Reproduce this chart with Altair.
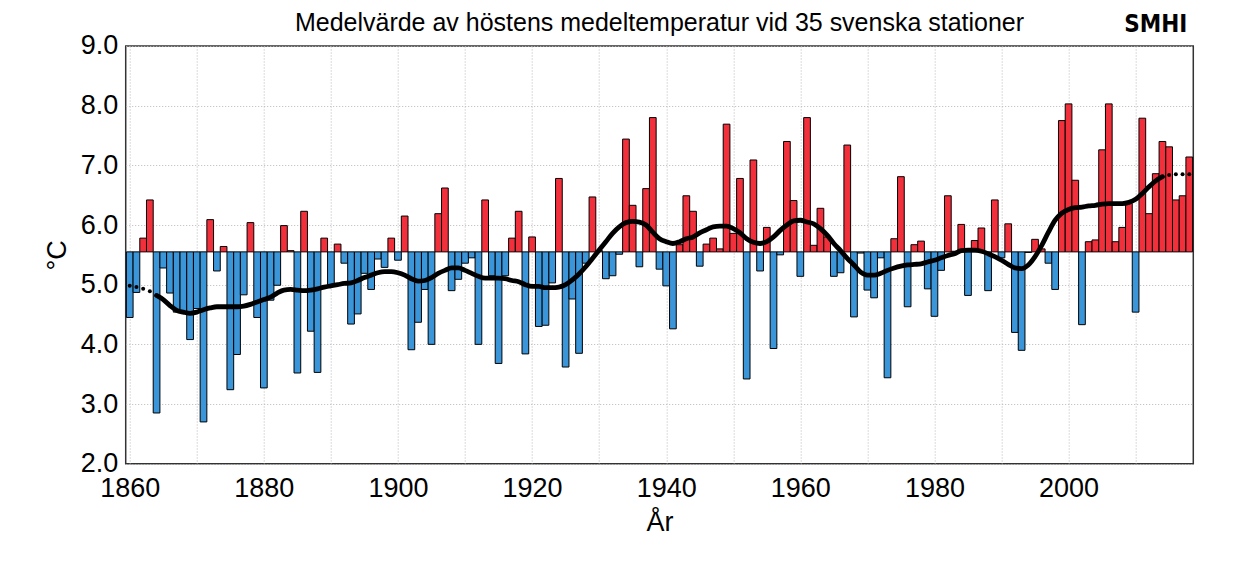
import altair as alt
import pandas as pd

# ---- data -------------------------------------------------------------
years = list(range(1860, 2019))

autumn_temp = [
    4.45, 4.87, 5.78, 6.42, 2.85, 5.28, 4.86, 4.54, 4.54, 4.08,   # 1860-1869
    4.60, 2.70, 6.09, 5.23, 5.64, 3.24, 3.83, 4.83, 6.04, 4.45,   # 1870-1879
    3.27, 4.74, 4.99, 5.99, 5.57, 3.52, 6.23, 4.22, 3.53, 5.78,   # 1880-1889
    5.00, 5.68, 5.36, 4.34, 4.51, 5.19, 4.92, 5.43, 5.29, 5.78,   # 1890-1899
    5.41, 6.15, 3.91, 4.37, 4.92, 4.00, 6.19, 6.62, 4.90, 5.09,   # 1900-1909
    5.36, 5.45, 4.00, 6.42, 5.15, 3.68, 5.15, 5.78, 6.23, 3.84,   # 1910-1919
    5.80, 4.30, 4.32, 5.03, 6.78, 3.62, 4.76, 3.85, 5.36, 6.47,   # 1920-1929
    5.57, 5.10, 5.15, 5.51, 7.44, 6.33, 5.30, 6.61, 7.80, 5.26,   # 1930-1939
    4.98, 4.26, 5.67, 6.49, 6.23, 5.31, 5.68, 5.78, 5.60, 7.69,   # 1940-1949
    5.86, 6.78, 3.42, 7.09, 5.23, 5.96, 3.93, 5.50, 7.40, 6.41,   # 1950-1959
    5.14, 7.80, 5.66, 6.28, 5.80, 5.14, 5.20, 7.34, 4.46, 5.53,   # 1960-1969
    4.91, 4.78, 5.45, 3.44, 5.77, 6.81, 4.63, 5.67, 5.73, 4.93,   # 1970-1979
    4.47, 5.24, 6.49, 5.56, 6.01, 4.82, 5.74, 5.95, 4.90, 6.42,   # 1980-1989
    5.45, 6.02, 4.20, 3.90, 5.54, 5.76, 5.60, 5.36, 4.92, 7.75,   # 1990-1999
    8.03, 6.75, 4.33, 5.72, 5.75, 7.26, 8.03, 5.72, 5.96, 6.36,   # 2000-2009
    4.54, 7.79, 6.19, 6.86, 7.40, 7.31, 6.42, 6.49, 7.14,         # 2010-2018
]

smoothed = [
    4.98, 4.96, 4.93, 4.89, 4.82, 4.75, 4.65, 4.57, 4.54, 4.52,   # 1860-1869
    4.54, 4.58, 4.61, 4.63, 4.63, 4.63, 4.63, 4.64, 4.67, 4.71,   # 1870-1879
    4.75, 4.79, 4.86, 4.91, 4.92, 4.91, 4.90, 4.91, 4.93, 4.96,   # 1880-1889
    4.98, 5.00, 5.02, 5.03, 5.07, 5.12, 5.16, 5.20, 5.22, 5.22,   # 1890-1899
    5.20, 5.16, 5.10, 5.06, 5.07, 5.12, 5.19, 5.24, 5.28, 5.28,   # 1900-1909
    5.24, 5.19, 5.14, 5.11, 5.11, 5.11, 5.10, 5.07, 5.05, 5.00,   # 1910-1919
    4.97, 4.97, 4.95, 4.95, 4.96, 5.00, 5.08, 5.18, 5.30, 5.44,   # 1920-1929
    5.58, 5.72, 5.86, 5.97, 6.04, 6.06, 6.05, 6.00, 5.88, 5.77,   # 1930-1939
    5.72, 5.69, 5.72, 5.77, 5.80, 5.87, 5.92, 5.97, 5.98, 5.98,   # 1940-1949
    5.94, 5.87, 5.77, 5.71, 5.69, 5.72, 5.80, 5.91, 6.00, 6.07,   # 1950-1959
    6.08, 6.05, 6.02, 5.94, 5.83, 5.69, 5.57, 5.44, 5.33, 5.21,   # 1960-1969
    5.16, 5.16, 5.19, 5.24, 5.28, 5.31, 5.33, 5.34, 5.35, 5.38,   # 1970-1979
    5.41, 5.45, 5.49, 5.52, 5.57, 5.58, 5.58, 5.56, 5.52, 5.47,   # 1980-1989
    5.41, 5.34, 5.28, 5.27, 5.33, 5.47, 5.66, 5.88, 6.08, 6.20,   # 1990-1999
    6.26, 6.29, 6.30, 6.32, 6.33, 6.35, 6.36, 6.36, 6.36, 6.38,   # 2000-2009
    6.43, 6.53, 6.64, 6.74, 6.81, 6.84, 6.85, 6.85, 6.85,         # 2010-2018
]

BASELINE = 5.55
SOLID_START, SOLID_END = 1864, 2014

x_ticks = list(range(1860, 2011, 10))
y_ticks = [2, 3, 4, 5, 6, 7, 8, 9]

TITLE = "Medelvärde av höstens medeltemperatur vid 35 svenska stationer"
LOGO = "SMHI"
RED = "#f2303c"
BLUE = "#3b95d9"
FONT = "Liberation Sans"

W, H = 1067.6, 417.7

# ---- tables -----------------------------------------------------------
bars_df = pd.DataFrame({"year": years, "temp": autumn_temp})
smooth_df = pd.DataFrame({"year": years, "smooth": smoothed})
title_df = pd.DataFrame({"t": [TITLE]})
logo_df = pd.DataFrame({"t": [LOGO]})

x_scale = alt.Scale(domain=[1859.4, 2018.6], nice=False, zero=False)
y_scale = alt.Scale(domain=[2, 9], nice=False, zero=False)

x_axis = alt.Axis(
    values=x_ticks,
    format="d",
    labelExpr="datum.value % 20 == 0 ? datum.label : ''",
    title="År",
    titleY=67,
    titleBaseline="alphabetic",
    labelPadding=33,
    labelBaseline="alphabetic",
)
y_axis = alt.Axis(
    values=y_ticks,
    format=".1f",
    title="°C",
    titleX=-60,
    titleY=H / 2,
    titleAngle=-90,
    titleBaseline="alphabetic",
    labelPadding=8,
)

bars = (
    alt.Chart(bars_df)
    .transform_calculate(
        x0="datum.year - 0.5",
        x1="datum.year + 0.5",
        base=str(BASELINE),
        kind=f"datum.temp >= {BASELINE} ? 'warm' : 'cold'",
    )
    .mark_rect(stroke="black", strokeWidth=1)
    .encode(
        x=alt.X("x0:Q", scale=x_scale, axis=x_axis),
        x2="x1:Q",
        y=alt.Y("temp:Q", scale=y_scale, axis=y_axis),
        y2="base:Q",
        color=alt.Color(
            "kind:N",
            scale=alt.Scale(domain=["warm", "cold"], range=[RED, BLUE]),
            legend=None,
        ),
    )
)

line = (
    alt.Chart(smooth_df)
    .transform_filter(
        f"datum.year >= {SOLID_START} && datum.year <= {SOLID_END}"
    )
    .mark_line(color="black", strokeWidth=4.8, strokeCap="round", interpolate="monotone")
    .encode(
        x=alt.X("year:Q", scale=x_scale),
        y=alt.Y("smooth:Q", scale=y_scale),
    )
)

dots = (
    alt.Chart(smooth_df)
    .transform_filter(
        f"datum.year < {SOLID_START} || datum.year > {SOLID_END}"
    )
    .mark_circle(color="black", size=16, opacity=1)
    .encode(
        x=alt.X("year:Q", scale=x_scale),
        y=alt.Y("smooth:Q", scale=y_scale),
    )
)

title = (
    alt.Chart(title_df)
    .mark_text(
        font=FONT,
        fontSize=25,
        align="center",
        baseline="alphabetic",
        color="black",
    )
    .encode(text="t:N", x=alt.value(W / 2), y=alt.value(-15))
)

logo = (
    alt.Chart(logo_df)
    .mark_text(
        font="DejaVu Sans Condensed, Liberation Sans Narrow, sans-serif",
        fontWeight="bold",
        fontSize=24,
        align="center",
        baseline="alphabetic",
        color="black",
    )
    .encode(text="t:N", x=alt.value(1030), y=alt.value(-14))
)

chart = (
    alt.layer(bars, line, dots, title, logo)
    .properties(
        width=W,
        height=H,
        autosize=alt.AutoSizeParams(type="none"),
        padding={"left": 117.7, "top": 38, "right": 50, "bottom": 100},
    )
    .configure_view(stroke="#333333", strokeWidth=1.5)
    .configure_axis(
        labelFont=FONT,
        labelFontSize=27,
        labelColor="black",
        labelOverlap=False,
        titleFont=FONT,
        titleFontSize=27,
        titleFontWeight="normal",
        titleColor="black",
        ticks=False,
        tickSize=0,
        domain=False,
        grid=True,
        gridColor="#b8b8b8",
        gridDash=[1, 2],
        gridWidth=1,
    )
)

chart.save("out.html", embed_options={"renderer": "svg", "actions": False})
